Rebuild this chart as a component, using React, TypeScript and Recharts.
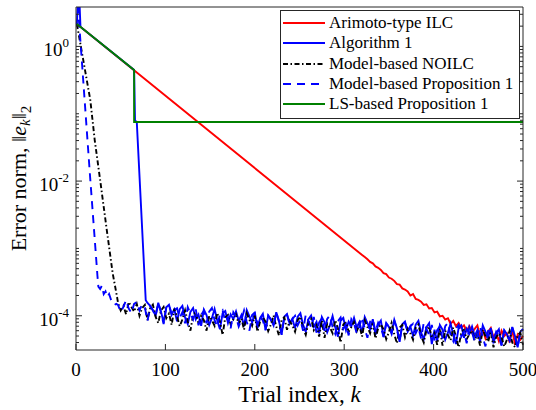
import { LineChart, Line, XAxis, YAxis, Legend } from 'recharts';

const FONT = "'Liberation Serif', 'Times New Roman', 'DejaVu Serif', serif";
const AXIS = '#262626';

// axes
const xTicks = [0, 100, 200, 300, 400, 500];
const yMajorTicks = [1e-4, 1e-2, 1];
const yDecades = [-5, -4, -3, -2, -1, 0];
const yMantissas = [1, 2, 3, 4, 5, 6, 7, 8, 9];
const yDomain: [number, number] = [3.1e-5, 3.85];

// noisy tails are read every 3 trials, values in units of 1e-4
const TAIL_STEP = 3;
const TAIL_UNIT = 1e-4;

// Arimoto-type ILC
const arimotoHead: [number, number][] = [[1, 2.15], [320, 8.0e-4]];
const arimotoTailStart = 323;
const arimotoTail = [
  7.45, 6.9, 6.3, 6.0, 5.4, 5.15, 4.8, 4.3, 4.15, 3.7,
  3.55, 3.3, 2.95, 2.9, 2.55, 2.45, 2.3, 2.0, 2.1, 1.78,
  1.72, 1.62, 1.45, 1.48, 1.28, 1.3, 1.12, 1.15, 0.98, 1.0,
  0.88, 0.92, 0.76, 0.84, 0.7, 0.78, 0.66, 0.72, 0.6, 0.7,
  0.56, 0.64, 0.72, 0.5, 0.62, 0.46, 0.58, 0.66, 0.48, 0.56,
  0.42, 0.6, 0.5, 0.55, 0.4, 0.62, 0.37, 0.52, 0.44, 0.5,
];

// Algorithm 1
const algorithm1Head: [number, number][] = [
  [1, 2.15], [3, 9], [5, 1.95], [65, 0.447], [66, 0.08], [68, 0.075], [78, 1.7e-4],
];
const algorithm1TailStart = 80;
const algorithm1Tail = [
  1.55, 1.4, 1.22, 1.0, 1.56, 1.16, 0.8, 1.34, 1.46, 1.05, 1.24,
  0.83, 1.25, 1.4, 0.94, 0.75, 1.14, 1.3, 0.88, 1.04, 0.71, 1.23,
  1.02, 0.73, 0.92, 1.26, 0.85, 0.63, 1.09, 1.18, 0.78, 1.05, 0.89,
  1.16, 0.84, 1.02, 0.7, 1.21, 0.98, 0.79, 1.12, 0.65, 0.93, 1.07,
  0.62, 1.01, 0.88, 0.72, 1.13, 0.84, 0.53, 0.97, 1.06, 0.76, 0.9,
  0.65, 0.97, 1.09, 0.73, 0.58, 0.89, 1.01, 0.69, 0.81, 0.55, 0.96,
  0.8, 0.57, 0.72, 0.99, 0.67, 0.49, 0.85, 0.93, 0.61, 0.82, 0.7,
  0.93, 0.67, 0.81, 0.56, 0.96, 0.78, 0.63, 0.89, 0.52, 0.74, 0.85,
  0.48, 0.78, 0.68, 0.56, 0.87, 0.65, 0.41, 0.75, 0.82, 0.58, 0.69,
  0.5, 0.74, 0.84, 0.56, 0.45, 0.68, 0.78, 0.38, 0.62, 0.42, 0.73,
  0.62, 0.44, 0.56, 0.77, 0.52, 0.38, 0.66, 0.72, 0.47, 0.64, 0.54,
  0.69, 0.5, 0.61, 0.41, 0.72, 0.58, 0.47, 0.66, 0.39, 0.55, 0.63,
  0.37, 0.61, 0.53, 0.43, 0.68, 0.5, 0.34, 0.58, 0.64,
];

// Model-based NOILC
const noilcHead: [number, number][] = [
  [1, 2.15], [16, 0.16], [21, 0.04], [27, 0.0104], [34, 2.07e-3], [41, 4.3e-4], [46, 1.88e-4],
];
const noilcTailStart = 47;
const noilcTail = [
  1.55, 1.2, 1.4, 1.05, 1.6, 1.35, 1.15, 1.5, 1.0, 1.3, 1.45,
  0.86, 1.3, 1.46, 0.97, 0.78, 1.19, 1.35, 0.92, 1.08, 0.73, 1.27,
  0.98, 0.7, 0.88, 1.21, 0.82, 0.6, 1.04, 1.13, 0.74, 1.0, 0.86,
  0.6, 0.99, 0.86, 0.71, 1.1, 0.82, 0.52, 0.95, 1.03, 0.74, 0.88,
  1.04, 0.75, 0.91, 0.62, 1.08, 0.87, 0.71, 1.0, 0.58, 0.83, 0.95,
  0.82, 0.59, 0.74, 1.01, 0.69, 0.51, 0.87, 0.95, 0.62, 0.84, 0.72,
  0.58, 0.86, 0.97, 0.65, 0.52, 0.79, 0.9, 0.61, 0.72, 0.49, 0.85,
  0.47, 0.77, 0.67, 0.55, 0.86, 0.64, 0.4, 0.74, 0.8, 0.58, 0.68,
  0.81, 0.59, 0.72, 0.49, 0.85, 0.68, 0.55, 0.78, 0.46, 0.65, 0.75,
  0.63, 0.45, 0.57, 0.78, 0.53, 0.39, 0.67, 0.73, 0.48, 0.65, 0.55,
  0.44, 0.66, 0.74, 0.5, 0.4, 0.61, 0.69, 0.47, 0.55, 0.37, 0.65,
  0.36, 0.6, 0.52, 0.43, 0.67, 0.49, 0.34, 0.57, 0.62, 0.45, 0.53,
  0.6, 0.43, 0.53, 0.36, 0.62, 0.5, 0.41, 0.58, 0.34, 0.48, 0.55,
  0.48, 0.35, 0.44, 0.6, 0.4, 0.34, 0.52, 0.56, 0.37,
];

// Model-based Proposition 1
const modelPropHead: [number, number][] = [
  [1, 6.5], [16, 0.0105], [24, 3.9e-4], [25, 2.7e-4], [27, 2.5e-4], [29, 2.8e-4], [31, 2.1e-4],
  [33, 2.3e-4], [35, 1.9e-4], [37, 2.1e-4], [39, 1.75e-4], [41, 1.6e-4], [43, 1.45e-4], [45, 1.5e-4],
];
const modelPropTailStart = 47;
const modelPropTail = [
  1.45, 1.15, 1.35, 1.7, 1.28, 1.1, 1.5, 1.6, 1.2, 1.48, 1.32,
  0.84, 1.38, 1.2, 0.98, 1.54, 1.14, 0.75, 1.32, 1.44, 1.03, 1.22,
  1.29, 0.93, 1.13, 0.77, 1.34, 1.08, 0.88, 1.24, 0.72, 1.03, 1.18,
  0.77, 1.15, 1.3, 0.86, 0.69, 1.06, 1.2, 0.82, 0.96, 0.65, 1.13,
  0.97, 0.69, 0.87, 1.2, 0.81, 0.6, 1.03, 1.12, 0.74, 0.99, 0.85,
  0.61, 1.0, 0.87, 0.71, 1.11, 0.83, 0.52, 0.96, 1.04, 0.75, 0.89,
  1.0, 0.72, 0.88, 0.6, 1.04, 0.84, 0.68, 0.96, 0.56, 0.8, 0.92,
  0.6, 0.9, 1.01, 0.68, 0.54, 0.83, 0.94, 0.64, 0.75, 0.51, 0.89,
  0.77, 0.55, 0.69, 0.95, 0.64, 0.47, 0.82, 0.89, 0.58, 0.79, 0.67,
  0.49, 0.76, 0.69, 0.54, 0.85, 0.62, 0.42, 0.75, 0.79, 0.57, 0.7,
  0.76, 0.55, 0.67, 0.46, 0.79, 0.64, 0.52, 0.73, 0.43, 0.61, 0.7,
  0.46, 0.7, 0.78, 0.52, 0.42, 0.64, 0.73, 0.49, 0.58, 0.39, 0.68,
  0.57, 0.41, 0.51, 0.7, 0.48, 0.35, 0.6, 0.66, 0.43, 0.58, 0.5,
  0.36, 0.6, 0.52, 0.43, 0.67, 0.49, 0.34, 0.57, 0.62,
];

// LS-based Proposition 1
const lsPropPoints: [number, number][] = [[1, 2.15], [65, 0.447], [65, 0.0754], [500, 0.0754]];

const toPoints = (head: [number, number][], tailStart?: number, tail: number[] = []) => [
  ...head.map(([k, v]) => ({ k, v })),
  ...tail.map((v, i) => ({ k: (tailStart ?? 0) + i * TAIL_STEP, v: v * TAIL_UNIT })),
];

const series = [
  { name: 'Arimoto-type ILC', color: '#ff0000', dash: undefined, data: toPoints(arimotoHead, arimotoTailStart, arimotoTail) },
  { name: 'Algorithm 1', color: '#0000ff', dash: undefined, data: toPoints(algorithm1Head, algorithm1TailStart, algorithm1Tail) },
  { name: 'Model-based NOILC', color: '#000000', dash: '5 2.5 1.5 2.5', data: toPoints(noilcHead, noilcTailStart, noilcTail) },
  { name: 'Model-based Proposition 1', color: '#0000ff', dash: '8 6', data: toPoints(modelPropHead, modelPropTailStart, modelPropTail) },
  { name: 'LS-based Proposition 1', color: '#008000', dash: undefined, data: toPoints(lsPropPoints) },
];

const isMajorY = (v: number) => yMajorTicks.some((t) => Math.abs(v - t) / t < 1e-6);
const yAllTicks = yDecades
  .flatMap((d) => yMantissas.map((m) => m * Math.pow(10, d)))
  .filter((v) => v >= yDomain[0] && v <= yDomain[1]);

function LeftTick({ x, y, payload }: any) {
  const major = isMajorY(payload.value);
  const exp = Math.round(Math.log10(payload.value));
  return (
    <g>
      <line x1={x} x2={x + (major ? 6 : 3)} y1={y} y2={y} stroke={AXIS} />
      {major && (
        <text x={x - 7} y={y + 10} textAnchor="end" fontFamily={FONT} fontSize={19} fill="#000">
          10<tspan dy={-9} fontSize={13}>{exp}</tspan>
        </text>
      )}
    </g>
  );
}

function RightTick({ x, y, payload }: any) {
  const major = isMajorY(payload.value);
  return <line x1={x} x2={x - (major ? 6 : 3)} y1={y} y2={y} stroke={AXIS} />;
}

function BottomTick({ x, y, payload }: any) {
  return (
    <g>
      <line x1={x} x2={x} y1={y} y2={y - 6} stroke={AXIS} />
      <text x={x} y={y + 26} textAnchor="middle" fontFamily={FONT} fontSize={19} fill="#000">
        {payload.value}
      </text>
    </g>
  );
}

function TopTick({ x, y }: any) {
  return <line x1={x} x2={x} y1={y} y2={y + 6} stroke={AXIS} />;
}

function XTitle({ viewBox }: any) {
  const cx = viewBox.x + viewBox.width / 2;
  return (
    <text x={cx} y={viewBox.y + 52} textAnchor="middle" fontFamily={FONT} fontSize={23} fill="#000">
      Trial index, <tspan fontStyle="italic">k</tspan>
    </text>
  );
}

function YTitle({ viewBox }: any) {
  const cx = 26;
  const cy = viewBox.y + viewBox.height / 2;
  return (
    <text x={cx} y={cy} transform={`rotate(-90, ${cx}, ${cy})`} textAnchor="middle" fontFamily={FONT} fontSize={22} fill="#000">
      Error norm, ‖<tspan fontStyle="italic">e</tspan>
      <tspan fontStyle="italic" fontSize={15} dy={4}>k</tspan>
      <tspan dy={-4}>‖</tspan>
      <tspan fontSize={15} dy={5}>2</tspan>
    </text>
  );
}

function LegendBox() {
  return (
    <div
      style={{
        border: `1px solid ${AXIS}`,
        background: '#fff',
        padding: '2px 0 3.5px 2px',
        boxSizing: 'border-box',
        width: 240,
        fontFamily: FONT,
        fontSize: 17,
        color: '#000',
      }}
    >
      {series.map((s) => (
        <div key={s.name} style={{ display: 'flex', alignItems: 'center', height: 20.3, whiteSpace: 'nowrap' }}>
          <svg width={42} height={6} style={{ marginRight: 4, flex: 'none' }}>
            <line x1={0} x2={42} y1={3} y2={3} stroke={s.color} strokeWidth={2} strokeDasharray={s.dash} />
          </svg>
          <span>{s.name}</span>
        </div>
      ))}
    </div>
  );
}

export default function App() {
  return (
    <div style={{ position: 'absolute', left: 0, top: 0 }}>
      <LineChart width={536} height={410} margin={{ top: 0, right: 0, bottom: 0, left: 0 }}>
        <XAxis
          dataKey="k"
          type="number"
          domain={[0, 500]}
          ticks={xTicks}
          interval={0}
          height={60}
          tickSize={0}
          tickMargin={0}
          tickLine={false}
          stroke={AXIS}
          tick={BottomTick}
          label={{ content: XTitle }}
        />
        <XAxis
          xAxisId="top"
          orientation="top"
          type="number"
          domain={[0, 500]}
          ticks={xTicks}
          interval={0}
          height={7}
          tickSize={0}
          tickMargin={0}
          tickLine={false}
          stroke={AXIS}
          tick={TopTick}
        />
        <YAxis
          type="number"
          scale="log"
          domain={yDomain}
          allowDataOverflow
          ticks={yAllTicks}
          interval={0}
          width={76}
          tickSize={0}
          tickMargin={0}
          tickLine={false}
          stroke={AXIS}
          tick={LeftTick}
          label={{ content: YTitle }}
        />
        <YAxis
          yAxisId="right"
          orientation="right"
          type="number"
          scale="log"
          domain={yDomain}
          allowDataOverflow
          ticks={yAllTicks}
          interval={0}
          width={13}
          tickSize={0}
          tickMargin={0}
          tickLine={false}
          stroke={AXIS}
          tick={RightTick}
        />
        <Legend
          layout="vertical"
          align="center"
          verticalAlign="middle"
          width={240}
          height={109}
          wrapperStyle={{ left: 280, top: 10, width: 240, height: 109 }}
          content={() => <LegendBox />}
        />
        {series.map((s) => (
          <Line
            key={s.name}
            data={s.data}
            dataKey="v"
            name={s.name}
            type="linear"
            stroke={s.color}
            strokeWidth={1.9}
            strokeDasharray={s.dash}
            dot={false}
            activeDot={false}
            isAnimationActive={false}
          />
        ))}
      </LineChart>
    </div>
  );
}
